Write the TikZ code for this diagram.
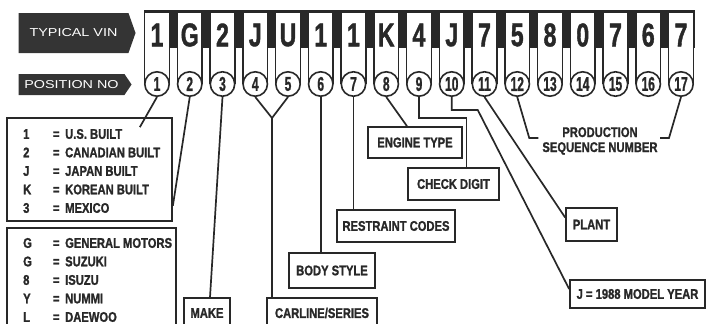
\documentclass[tikz,border=0pt]{standalone}
\usepackage{fontspec}
\setmainfont{Liberation Sans}
\newfontfamily\vinfont[FakeStretch=0.7, FakeBold=1.2]{Liberation Sans}
\newfontfamily\numfont[FakeStretch=0.6, FakeBold=1]{Liberation Sans}
\newfontfamily\lblfont[FakeStretch=0.8, FakeBold=1.3]{Liberation Sans}
\newfontfamily\tagfont[FakeStretch=1.25]{Liberation Sans}
\definecolor{ink}{RGB}{40, 40, 40}
\definecolor{tagfill}{RGB}{52, 52, 52}
\usetikzlibrary{calc, shapes.symbols}
\tikzset{
	tag/.style={signal, signal to=east, fill=tagfill, text=white, inner sep=0pt, font=\tagfont\fontsize{11.5}{11.5}\selectfont},
	cell/.style={draw=ink, fill=white, line width=1.6pt},
	vinchar/.style={inner sep=0pt, text=ink, font=\vinfont\bfseries\fontsize{33}{33}\selectfont},
	posnum/.style={circle, draw=ink, fill=white, line width=1.6pt, minimum size=24.4pt, inner sep=0pt, text=ink, font=\numfont\bfseries\fontsize{20}{20}\selectfont},
	codebox/.style={rectangle, draw=ink, fill=white, line width=1.7pt, inner sep=0pt, text=ink, font=\lblfont\bfseries\fontsize{14}{14}\selectfont},
	legendframe/.style={rectangle, draw=ink, line width=1.7pt, inner sep=0pt},
	legendtext/.style={inner sep=0pt, align=left, anchor=west, text=ink, font=\lblfont\bfseries\fontsize{14}{18.5}\selectfont},
	seqtext/.style={inner sep=0pt, align=center, text=ink, font=\lblfont\bfseries\fontsize{14}{15}\selectfont},
	link/.style={draw=ink, line width=1.7pt},
}
\newcommand{\keyrow}[2]{\makebox[27pt][l]{#1}\makebox[12pt]{=}\hspace{3pt}#2}

\begin{document}
\begin{tikzpicture}[x=1pt, y=-1pt]
	\useasboundingbox (0,0) rectangle (707,324);
	% tags
	\node[tag, minimum width=117, minimum height=40, signal pointer angle=141] (vintag) at (73.5,33) {TYPICAL VIN\hspace{14pt}};
	\node[tag, minimum width=113, minimum height=21, signal pointer angle=112] (postag) at (71.5,84.5) {POSITION NO\hspace{8pt}};
	% vin strip
	\fill[ink] (144,10) rectangle (695,48);
	\foreach \ch [count=\i] in {1,G,2,J,U,1,1,K,4,J,7,5,8,0,7,6,7} {
		\pgfmathsetmacro\cx{157+(\i-1)*32.75}
		\filldraw[cell] (\cx-12.4,84) -- (\cx-12.4,12) -- (\cx+12.4,12) -- (\cx+12.4,84);
		\node[vinchar] (c\i) at (\cx,35) {\ch};
		\node[posnum] (p\i) at (\cx,84) {\i};
	}
	% legends
	\node[legendframe, minimum width=165, minimum height=103] (country) at (89.5,169.5) {};
	\node[legendtext] (countrytxt) at (23,171) {\keyrow{1}{U.S. BUILT}\\\keyrow{2}{CANADIAN BUILT}\\\keyrow{J}{JAPAN BUILT}\\\keyrow{K}{KOREAN BUILT}\\\keyrow{3}{MEXICO}};
	\node[legendframe, minimum width=169, minimum height=105] (maker) at (91.5,280.5) {};
	\node[legendtext] (makertxt) at (23,280) {\keyrow{G}{GENERAL MOTORS}\\\keyrow{G}{SUZUKI}\\\keyrow{8}{ISUZU}\\\keyrow{Y}{NUMMI}\\\keyrow{L}{DAEWOO}};
	% code boxes
	\node[codebox, minimum width=46, minimum height=30] (make) at (207,313) {MAKE};
	\node[codebox, minimum width=110, minimum height=30] (carline) at (322,313) {CARLINE/SERIES};
	\node[codebox, minimum width=86, minimum height=35] (body) at (332,270.5) {BODY STYLE};
	\node[codebox, minimum width=118, minimum height=32] (restraint) at (396,226) {RESTRAINT CODES};
	\node[codebox, minimum width=94, minimum height=31] (engine) at (415,142.5) {ENGINE TYPE};
	\node[codebox, minimum width=91, minimum height=32] (check) at (453.5,184) {CHECK DIGIT};
	\node[codebox, minimum width=51, minimum height=33] (plant) at (591.5,224.5) {PLANT};
	\node[codebox, minimum width=135, minimum height=28] (year) at (637.5,294) {J = 1988 MODEL YEAR};
	\node[seqtext] (seq) at (600,141) {PRODUCTION\\SEQUENCE NUMBER};
	% connectors
	\coordinate (usbuilt) at ($(country.north east)+(-33,10)$);
	\coordinate (vee) at (272,118);
	\coordinate (chk) at ($(check.north)+(13,0)$);
	\draw[link] (p1.south) -- (usbuilt);
	\draw[link] (p2.south) -- ($(country.south east)+(0,-16)$);
	\draw[link] (p3.south) -- ($(make.north)+(3,0)$);
	\draw[link] (p4.south) -- (vee) -- (p5.south);
	\draw[link] (vee) -- (vee |- carline.north);
	\draw[link] (p6.south) -- (p6.south |- body.north);
	\draw[link] (p7.south) -- (p7.south |- restraint.north);
	\draw[link] (p8.south) -- ($(engine.north)+(-8,0)$);
	\draw[link] (p9.south) -- ++(0,21) -| (chk);
	\draw[link] (p10.south) -- ++(0,13) -- ++(26,0) -- ($(year.west)+(0,-5)$);
	\draw[link] (p11.south) -- ($(plant.west)+(0,-7)$);
	\draw[link] (p12.south) -- ++(12,41) -- ++(9,0);
	\draw[link] (p17.south) -- ++(-12,41) -- ++(-9,0);
\end{tikzpicture}
\end{document}
